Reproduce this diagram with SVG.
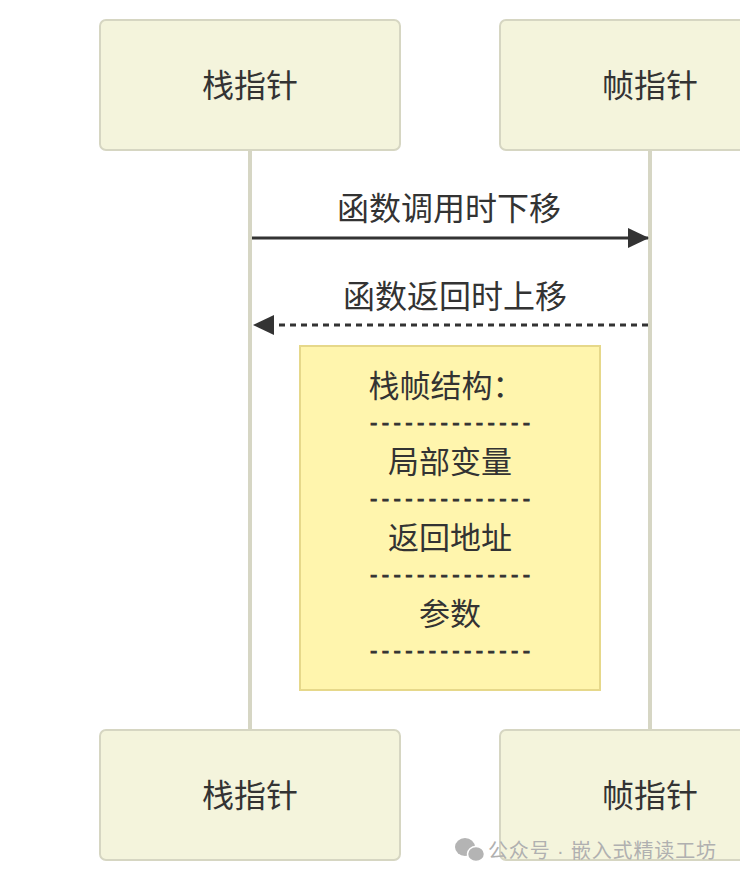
<svg xmlns="http://www.w3.org/2000/svg" width="740" height="880" viewBox="0 0 740 880">
<style>
.actor{fill:#f4f4dc;stroke:#d6d6c2;stroke-width:2}
.life{stroke:#d6d6c4;stroke-width:4}
.t{font-family:"Noto Sans CJK SC","Liberation Sans",sans-serif;fill:#333;text-anchor:middle}
.at{font-size:32px}
.mt{font-size:32px}
.nt{font-size:31px}
.dash{font-family:"Liberation Sans",sans-serif;font-size:22px;fill:#333;stroke:#333;stroke-width:0.9;text-anchor:middle}
.msg{stroke:#333;stroke-width:3;fill:none}
.wm{font-family:"Noto Sans CJK SC","Liberation Sans",sans-serif;fill:#b0b0b0;font-size:20px}
</style>
<defs>
<marker id="ah" markerWidth="22" markerHeight="22" refX="20" refY="10" orient="auto" markerUnits="userSpaceOnUse">
<path d="M0,0 L21,10 L0,20 Z" fill="#333"/>
</marker>
</defs>
<g id="lifelines">
<line class="life" x1="250" y1="150" x2="250" y2="730"/>
<line class="life" x1="650" y1="150" x2="650" y2="730"/>
</g>
<g id="actor-sp-top">
<rect class="actor" x="100" y="20" width="300" height="130" rx="6"/>
<text class="t at" x="250" y="97">栈指针</text>
</g>
<g id="actor-fp-top">
<rect class="actor" x="500" y="20" width="300" height="130" rx="6"/>
<text class="t at" x="650" y="97">帧指针</text>
</g>
<g id="actor-sp-bottom">
<rect class="actor" x="100" y="730" width="300" height="130" rx="6"/>
<text class="t at" x="250" y="807">栈指针</text>
</g>
<g id="actor-fp-bottom">
<rect class="actor" x="500" y="730" width="300" height="130" rx="6"/>
<text class="t at" x="650" y="807">帧指针</text>
</g>
<g id="connectors">
<line class="msg" x1="252" y1="238" x2="648" y2="238" marker-end="url(#ah)"/>
<text class="t mt" x="449" y="220">函数调用时下移</text>
<line class="msg" x1="648" y1="325" x2="254" y2="325" stroke-dasharray="6,5" marker-end="url(#ah)"/>
<text class="t mt" x="455" y="308">函数返回时上移</text>
</g>
<g id="note">
<rect x="300" y="346" width="300" height="344" fill="#fff5ad" stroke="#e6d88a" stroke-width="2"/>
<text class="t nt" x="446" y="397">栈帧结构：</text>
<text class="dash" x="450" y="430" textLength="160" lengthAdjust="spacing">--------------</text>
<text class="t nt" x="450" y="473">局部变量</text>
<text class="dash" x="450" y="506" textLength="160" lengthAdjust="spacing">--------------</text>
<text class="t nt" x="450" y="549">返回地址</text>
<text class="dash" x="450" y="582" textLength="160" lengthAdjust="spacing">--------------</text>
<text class="t nt" x="450" y="625">参数</text>
<text class="dash" x="450" y="658" textLength="160" lengthAdjust="spacing">--------------</text>
</g>
<g id="watermark">
<ellipse cx="465" cy="847" rx="10" ry="9" fill="#b4b4b4"/>
<ellipse cx="476" cy="854" rx="8.5" ry="7.5" fill="#b4b4b4" stroke="#fff" stroke-width="1.5"/>
<text class="wm" x="488" y="858" textLength="228" lengthAdjust="spacing">公众号<tspan font-family="Liberation Sans"> · </tspan>嵌入式精读工坊</text>
</g>
</svg>
